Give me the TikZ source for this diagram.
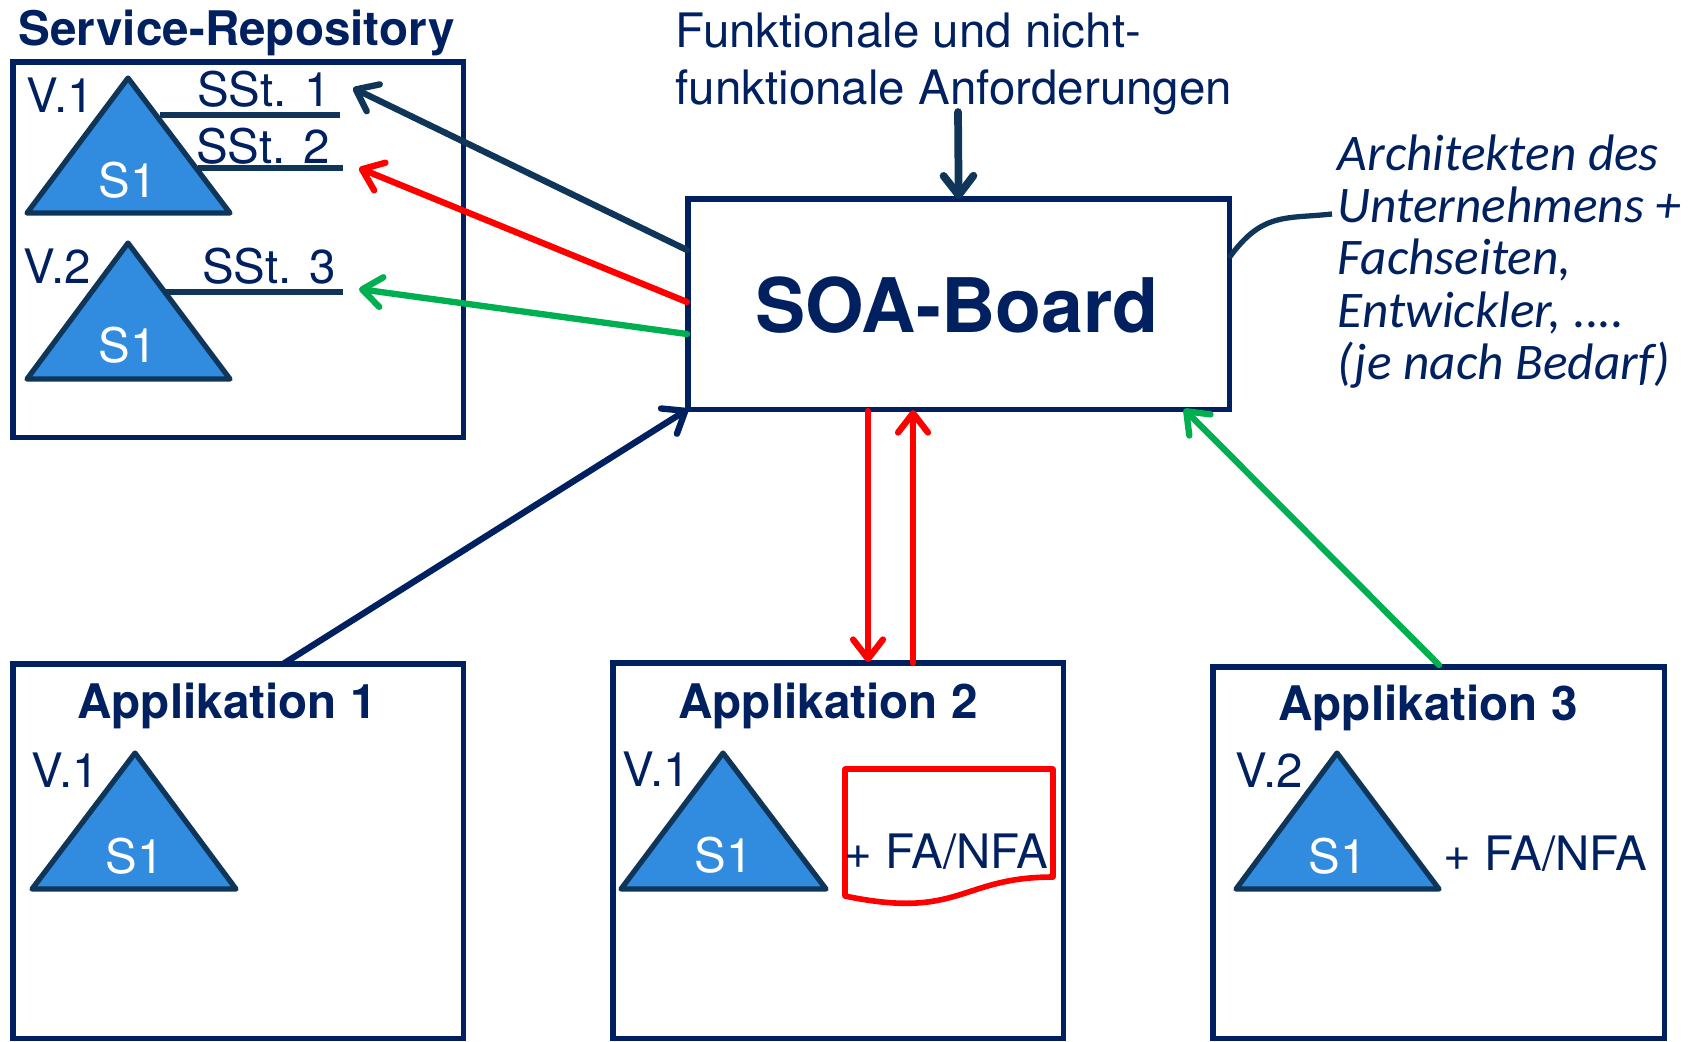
\documentclass[tikz,border=0pt]{standalone}
\usepackage{fontspec}
\setmainfont{TeX Gyre Heros}
\newfontfamily\handfont{Carlito}
\usetikzlibrary{arrows.meta}
\definecolor{navy}{HTML}{002060}
\definecolor{darkline}{HTML}{0F3558}
\definecolor{triblue}{HTML}{318CE0}
\definecolor{arrred}{HTML}{FF0000}
\definecolor{arrgreen}{HTML}{00B050}
\newcommand{\fsize}[1]{\fontsize{#1}{#1}\selectfont}
\tikzstyle{box}=[draw=navy, line width=1.5pt, inner sep=0pt, outer sep=0pt, anchor=north west]
\tikzstyle{tri}=[draw=darkline, fill=triblue, line width=1.5pt, line join=round]
\tikzstyle{sstline}=[draw=darkline, line width=1.9pt]
\tikzstyle{txt}=[text=navy, inner sep=0pt, anchor=base west, font=\fsize{13.5}]
\tikzstyle{hdr}=[text=navy, inner sep=0pt, anchor=base, font=\fsize{13.55}\bfseries]
\tikzstyle{tag}=[text=white, inner sep=0pt, anchor=base, font=\fsize{13.5}]
\tikzstyle{arr}=[-{Straight Barb[length=5.5pt,width=8.5pt,round]}, line width=1.8pt, line cap=round]
\begin{document}
\begin{tikzpicture}[x=.01cm,y=-.01cm]
      \useasboundingbox (0,0) rectangle (1695,1041);

      \node[box, minimum width=4.5cm, minimum height=3.75cm] (repo) at (13,62) {};
      \node[box, minimum width=5.41cm, minimum height=2.1cm] (soa) at (688,199) {};
      \node[box, minimum width=4.5cm, minimum height=3.74cm] (app1) at (13,664) {};
      \node[box, minimum width=4.5cm, minimum height=3.75cm] (app2) at (613,663) {};
      \node[box, minimum width=4.51cm, minimum height=3.71cm] (app3) at (1213,667) {};

      \node[hdr, anchor=base west] (repotitle) at (18,45) {Service-Repository};
      \node[hdr] (title1) at (227,718) {Applikation 1};
      \node[hdr] (title2) at (828,718) {Applikation 2};
      \node[hdr] (title3) at (1428,720) {Applikation 3};
      \node[text=navy, inner sep=0pt, anchor=base, font=\fsize{21.4}\bfseries] (board) at (957,332) {SOA-Board};

      \node[txt] (req1) at (675,47) {Funktionale und nicht-};
      \node[txt] (req2) at (675,104) {funktionale Anforderungen};

      % triangles
      \draw[tri] (128,78) -- (230,213) -- (27,213) -- cycle;
      \draw[tri] (128,243) -- (230,379) -- (27,379) -- cycle;
      \draw[tri] (135,753) -- (236,889) -- (32,889) -- cycle;
      \draw[tri] (723,753) -- (826,889) -- (621,889) -- cycle;
      \draw[tri] (1337,753) -- (1439,889) -- (1236,889) -- cycle;

      \node[tag] (s1) at (128,197) {S1};
      \node[tag] (s2) at (128,362) {S1};
      \node[tag] (s3) at (135,873) {S1};
      \node[tag] (s4) at (724,872) {S1};
      \node[tag] (s5) at (1338,873) {S1};

      \node[txt] (v1) at (26,112) {V.1};
      \node[txt] (v2) at (23,283) {V.2};
      \node[txt] (v3) at (31,787) {V.1};
      \node[txt] (v4) at (622,786) {V.1};
      \node[txt] (v5) at (1235,787) {V.2};

      \node[txt, anchor=base] (sst1) at (264,106) {SSt. 1};
      \node[txt, anchor=base] (sst2) at (263,163) {SSt. 2};
      \node[txt, anchor=base] (sst3) at (269,283) {SSt. 3};

      \coordinate (l1a) at (160,115);
      \coordinate (l1b) at (340,115);
      \coordinate (l2a) at (198,168);
      \coordinate (l2b) at (343,168);
      \coordinate (l3a) at (163,292);
      \coordinate (l3b) at (343,292);
      \draw[sstline] (l1a) -- (l1b);
      \draw[sstline] (l2a) -- (l2b);
      \draw[sstline] (l3a) -- (l3b);

      % arrows to the interfaces
      \coordinate (e1) at (353,88);
      \coordinate (e2) at (359,168);
      \coordinate (e3) at (359,289);
      \coordinate (b1) at (687,250);
      \coordinate (b2) at (687,302);
      \coordinate (b3) at (687,334);
      \draw[arr, draw=darkline] (b1) -- (e1);
      \draw[arr, draw=arrred] (b2) -- (e2);
      \draw[arr, draw=arrgreen] (b3) -- (e3);

      % arrows from the applications
      \coordinate (a1) at (283,664);
      \coordinate (a2) at (868,411);
      \coordinate (a3) at (868,662);
      \coordinate (a4) at (913,663);
      \coordinate (a5) at (913,410);
      \coordinate (a6) at (1439,665);
      \coordinate (a7) at (1184,409);
      \draw[arr, draw=navy] (a1) -- (soa.south west);
      \draw[arr, draw=arrred] (a2) -- (a3);
      \draw[arr, draw=arrred] (a4) -- (a5);
      \draw[arr, draw=arrgreen] (a6) -- (a7);

      \coordinate (reqtop) at (958,112);
      \draw[arr, draw=darkline, line width=2.2pt] (reqtop) -- (soa.north);

      % people note
      \node[text=navy, inner sep=0pt, anchor=north west, align=left,
            font=\handfont\itshape\fontsize{14.6}{14.85}\selectfont] (people) at (1337,134)
            {Architekten des\\Unternehmens +\\Fachseiten,\\Entwickler, ....\\(je nach Bedarf)};
      \coordinate (soaright) at (1229,258);
      \coordinate (peopleleft) at (1332,214);
      \draw[draw=darkline, line width=1.5pt] (soaright) .. controls (1262,212) and (1285,219) .. (peopleleft);

      % extras of application 2 and 3
      \draw[draw=arrred, line width=1.6pt, line join=round] (845,769) -- (1053,769) -- (1053,877)
            .. controls (960,877) and (960,920) .. (845,896) -- cycle;
      \node[txt] (fa1) at (844,868) {+ FA/NFA};
      \node[txt] (fa2) at (1443,870) {+ FA/NFA};
\end{tikzpicture}
\end{document}
